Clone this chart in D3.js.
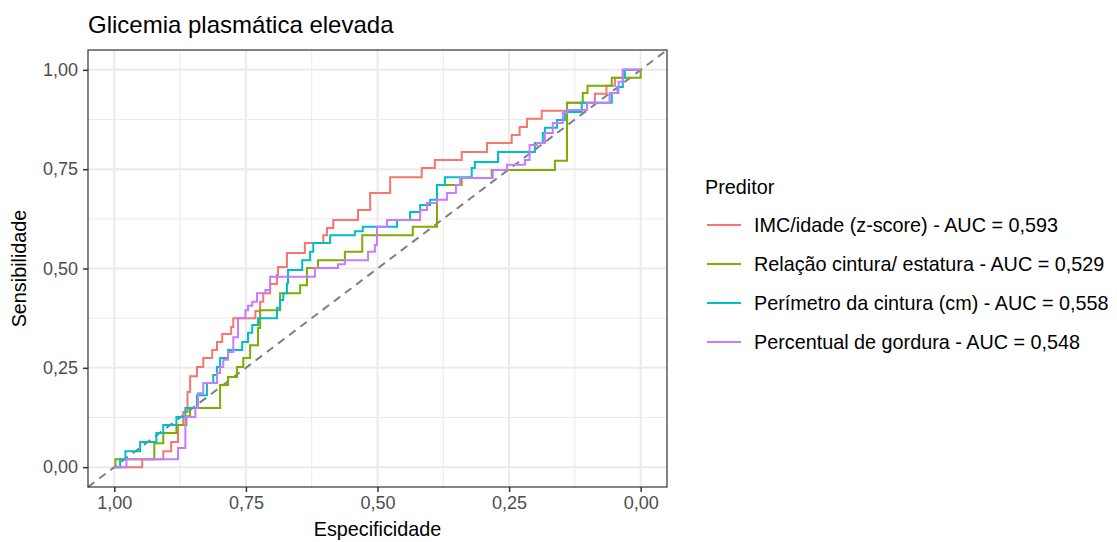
<!DOCTYPE html>
<html>
<head>
<meta charset="utf-8">
<title>Glicemia plasmática elevada</title>
<script src="https://cdn.jsdelivr.net/npm/d3@7"></script>
<style>
  body { margin: 0; background: #fff; }
  text { font-family: "Liberation Sans", Arial, sans-serif; }
</style>
</head>
<body>
<svg id="roc" width="1117" height="542"></svg>
<script>
// curve points, [especificidade, sensibilidade]
var imc = [[1,0],[0.947,0.020],[0.907,0.040],[0.892,0.063],[0.879,0.106],[0.869,0.139],[0.861,0.189],
  [0.856,0.229],[0.843,0.252],[0.831,0.275],[0.814,0.295],[0.805,0.315],[0.795,0.335],[0.778,0.353],
  [0.774,0.375],[0.732,0.393],[0.723,0.416],[0.717,0.438],[0.704,0.461],[0.691,0.484],[0.689,0.504],
  [0.672,0.539],[0.638,0.564],[0.603,0.584],[0.596,0.602],[0.584,0.622],[0.537,0.647],[0.514,0.690],
  [0.476,0.730],[0.416,0.753],[0.391,0.773],[0.340,0.793],[0.292,0.816],[0.245,0.836],[0.230,0.856],
  [0.216,0.877],[0.188,0.897],[0.140,0.917],[0.087,0.940],[0.065,0.960],[0.049,0.980],[0.034,1],[0,1]];

var rce = [[1,0],[0.998,0.020],[0.924,0.060],[0.907,0.086],[0.882,0.106],[0.863,0.128],[0.856,0.149],
  [0.799,0.207],[0.784,0.227],[0.767,0.252],[0.755,0.275],[0.742,0.307],[0.727,0.350],[0.723,0.395],
  [0.685,0.438],[0.647,0.458],[0.634,0.501],[0.613,0.521],[0.562,0.542],[0.529,0.584],[0.433,0.605],
  [0.387,0.710],[0.340,0.728],[0.283,0.748],[0.163,0.771],[0.140,0.917],[0.110,0.942],[0.101,0.960],
  [0.055,0.980],[0,1]];

var pc = [[1,0],[0.989,0.020],[0.979,0.040],[0.951,0.063],[0.920,0.086],[0.907,0.106],[0.882,0.126],
  [0.865,0.149],[0.843,0.181],[0.824,0.212],[0.812,0.232],[0.805,0.252],[0.799,0.275],[0.784,0.295],
  [0.757,0.315],[0.746,0.338],[0.738,0.358],[0.727,0.375],[0.691,0.401],[0.685,0.421],[0.679,0.438],
  [0.672,0.463],[0.670,0.496],[0.643,0.521],[0.628,0.542],[0.622,0.564],[0.590,0.584],[0.543,0.594],
  [0.528,0.605],[0.463,0.622],[0.438,0.642],[0.419,0.660],[0.400,0.673],[0.387,0.710],[0.372,0.730],
  [0.321,0.753],[0.315,0.768],[0.271,0.793],[0.201,0.816],[0.186,0.841],[0.182,0.854],[0.159,0.874],
  [0.144,0.894],[0.112,0.917],[0.055,0.942],[0.044,0.957],[0.034,0.980],[0.030,1],[0,1]];

var pg = [[1,0],[0.977,0.020],[0.879,0.048],[0.865,0.126],[0.846,0.149],[0.841,0.186],[0.831,0.212],
  [0.805,0.237],[0.799,0.252],[0.793,0.270],[0.784,0.290],[0.774,0.327],[0.765,0.375],[0.751,0.395],
  [0.746,0.406],[0.738,0.416],[0.729,0.438],[0.713,0.446],[0.704,0.479],[0.619,0.501],[0.575,0.511],
  [0.562,0.521],[0.518,0.542],[0.505,0.559],[0.501,0.605],[0.482,0.622],[0.419,0.647],[0.406,0.665],
  [0.387,0.673],[0.368,0.690],[0.351,0.710],[0.343,0.728],[0.281,0.748],[0.254,0.761],[0.220,0.773],
  [0.211,0.811],[0.197,0.816],[0.182,0.841],[0.167,0.866],[0.148,0.892],[0.139,0.899],[0.102,0.917],
  [0.059,0.942],[0.042,0.970],[0.034,1],[0,1]];

var seriesNames = ["IMC/idade (z-score) - AUC = 0,593", "Relação cintura/ estatura - AUC = 0,529",
                   "Perímetro da cintura (cm) - AUC = 0,558", "Percentual de gordura - AUC = 0,548"];
var seriesData = [imc, rce, pc, pg];
var colors = ["#F8766D", "#7CAE00", "#00BFC4", "#C77CFF"];

var majorTicks = [1, 0.75, 0.5, 0.25, 0];
var minorTicks = [0.875, 0.625, 0.375, 0.125];
var fmt = function(d) { return d3.format(".2f")(d).replace(".", ","); };

var svg = d3.select("#roc"),
    panel = {left: 88, top: 50, right: 667, bottom: 487};

var x = d3.scaleLinear().domain([1.05, -0.05]).range([panel.left, panel.right]),
    y = d3.scaleLinear().domain([-0.05, 1.05]).range([panel.bottom, panel.top]);

// title
svg.append("text")
    .attr("x", 88).attr("y", 33)
    .style("font-size", "24px").style("fill", "#000")
    .text("Glicemia plasmática elevada");

var g = svg.append("g");

// grid
g.selectAll(".gx-minor").data(minorTicks).enter().append("line")
    .attr("x1", d => x(d)).attr("x2", d => x(d))
    .attr("y1", panel.top).attr("y2", panel.bottom)
    .attr("stroke", "#ebebeb").attr("stroke-width", 1);
g.selectAll(".gy-minor").data(minorTicks).enter().append("line")
    .attr("y1", d => y(d)).attr("y2", d => y(d))
    .attr("x1", panel.left).attr("x2", panel.right)
    .attr("stroke", "#ebebeb").attr("stroke-width", 1);
g.selectAll(".gx").data(majorTicks).enter().append("line")
    .attr("x1", d => x(d)).attr("x2", d => x(d))
    .attr("y1", panel.top).attr("y2", panel.bottom)
    .attr("stroke", "#ebebeb").attr("stroke-width", 2);
g.selectAll(".gy").data(majorTicks).enter().append("line")
    .attr("y1", d => y(d)).attr("y2", d => y(d))
    .attr("x1", panel.left).attr("x2", panel.right)
    .attr("stroke", "#ebebeb").attr("stroke-width", 2);

// diagonal reference
g.append("line")
    .attr("x1", x(1.05)).attr("y1", y(-0.05))
    .attr("x2", x(-0.05)).attr("y2", y(1.05))
    .attr("stroke", "#7f7f7f").attr("stroke-width", 2)
    .attr("stroke-dasharray", "8,6");

// curves
var line = d3.line()
    .x(d => x(d[0])).y(d => y(d[1]))
    .curve(d3.curveStepAfter);

g.selectAll(".roc").data(seriesData).enter().append("path")
    .attr("class", "roc")
    .attr("d", line)
    .attr("fill", "none")
    .attr("stroke", (d, i) => colors[i])
    .attr("stroke-width", 2);

// panel border
svg.append("rect")
    .attr("x", panel.left).attr("y", panel.top)
    .attr("width", panel.right - panel.left).attr("height", panel.bottom - panel.top)
    .attr("fill", "none").attr("stroke", "#333").attr("stroke-width", 1.2);

// axes
var xAxis = svg.append("g")
    .attr("transform", "translate(0," + panel.bottom + ")")
    .call(d3.axisBottom(x).tickValues(majorTicks).tickFormat(fmt).tickSize(5).tickPadding(4));
var yAxis = svg.append("g")
    .attr("transform", "translate(" + panel.left + ",0)")
    .call(d3.axisLeft(y).tickValues(majorTicks).tickFormat(fmt).tickSize(5).tickPadding(5));

[xAxis, yAxis].forEach(function(a) {
  a.select(".domain").remove();
  a.selectAll(".tick line").attr("stroke", "#333").attr("stroke-width", 1.5);
  a.selectAll(".tick text")
      .style("font-family", "'Liberation Sans', Arial, sans-serif")
      .style("font-size", "18px").style("fill", "#4d4d4d");
});

svg.append("text")
    .attr("x", (panel.left + panel.right) / 2).attr("y", 536)
    .attr("text-anchor", "middle")
    .style("font-size", "19.8px")
    .text("Especificidade");
svg.append("text")
    .attr("transform", "translate(26," + (panel.top + panel.bottom) / 2 + ") rotate(-90)")
    .attr("text-anchor", "middle")
    .style("font-size", "19.8px")
    .text("Sensibilidade");

// legend
var legend = svg.append("g");
legend.append("text")
    .attr("x", 705).attr("y", 194)
    .style("font-size", "19.8px")
    .text("Preditor");

var items = legend.selectAll(".item").data(seriesNames).enter().append("g")
    .attr("transform", (d, i) => "translate(0," + (225 + i * 39) + ")");
items.append("line")
    .attr("x1", 707).attr("x2", 741)
    .attr("stroke", (d, i) => colors[i]).attr("stroke-width", 2);
items.append("text")
    .attr("x", 754).attr("dy", "0.35em")
    .style("font-size", "19.8px")
    .text(d => d);
</script>
</body>
</html>
